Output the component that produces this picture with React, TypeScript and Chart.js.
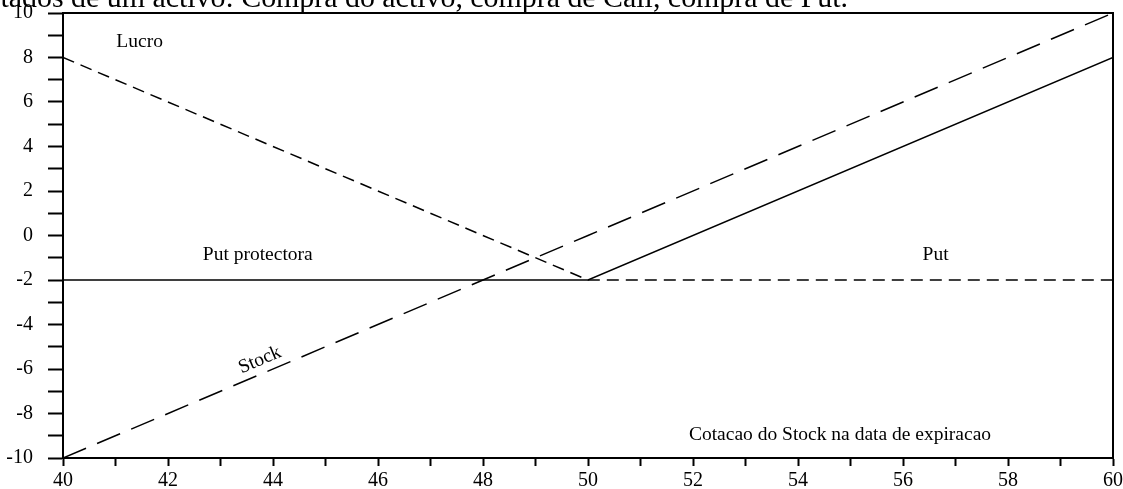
import React, { useEffect, useRef } from "react";
import { Chart, registerables } from "chart.js";

Chart.register(...registerables);

// Data
const stockPrices = [40, 50, 60];
const putProtectoraProfit = [-2, -2, 8];
const stockProfit = [-10, 0, 10];
const putProfit = [8, -2, -2];

const titleText = "Resultados de um activo: Compra do activo, compra de Call, compra de Put.";
const titleVisible = "tados de um activo: Compra do activo, compra de Call, compra de Put.";

const annotations = [
  { text: "Lucro", x: 41.46, y: 8.7, rot: 0 },
  { text: "Put protectora", x: 43.71, y: -0.88, rot: 0 },
  { text: "Put", x: 56.62, y: -0.88, rot: 0 },
  { text: "Stock", x: 43.75, y: -5.6, rot: 1 },
  { text: "Cotacao do Stock na data de expiracao", x: 54.8, y: -8.97, rot: 0 },
];

const pts = (ys: number[]) => stockPrices.map((x, i) => ({ x, y: ys[i] }));

const tickCb = (v: any) => (Number(v) % 2 === 0 ? String(v) : "");

export default function App() {
  const ref = useRef<HTMLCanvasElement | null>(null);
  useEffect(() => {
    document.body.style.margin = "0";
    const canvas = ref.current!;
    const framePlugin = {
      id: "frame",
      afterDraw(chart: any) {
        const { ctx, chartArea } = chart;
        const xs = chart.scales.x;
        const ys = chart.scales.y;
        ctx.save();
        ctx.strokeStyle = "#000";
        ctx.lineWidth = 2;
        ctx.beginPath();
        ctx.moveTo(chartArea.left, chartArea.top);
        ctx.lineTo(chartArea.right, chartArea.top);
        ctx.lineTo(chartArea.right, chartArea.bottom);
        ctx.stroke();
        ctx.fillStyle = "#000";
        ctx.font = '19.5px "Liberation Serif"';
        ctx.textAlign = "center";
        ctx.textBaseline = "middle";
        for (const a of annotations) {
          const px = xs.getPixelForValue(a.x);
          const py = ys.getPixelForValue(a.y);
          ctx.save();
          ctx.translate(px, py);
          if (a.rot) {
            const dx = xs.getPixelForValue(60) - xs.getPixelForValue(40);
            const dy = ys.getPixelForValue(10) - ys.getPixelForValue(-10);
            ctx.rotate(Math.atan2(dy, dx));
          }
          ctx.fillText(a.text, 0, 0);
          ctx.restore();
        }
        ctx.font = '100px "Liberation Serif"';
        const w = ctx.measureText(titleVisible).width;
        const size = (100 * 848) / w;
        ctx.font = `${size}px "Liberation Serif"`;
        ctx.textAlign = "right";
        ctx.textBaseline = "alphabetic";
        ctx.fillText(titleText, 848, 7);
        ctx.restore();
      },
    };
    const chart = new Chart(canvas, {
      type: "line",
      data: {
        datasets: [
          {
            label: "Put protectora",
            data: pts(putProtectoraProfit),
            borderColor: "#000",
            borderWidth: 1.5,
            pointRadius: 0,
            fill: false,
          },
          {
            label: "Stock",
            data: pts(stockProfit),
            borderColor: "#000",
            borderWidth: 1.5,
            borderDash: [25, 12],
            pointRadius: 0,
            fill: false,
          },
          {
            label: "Put",
            data: pts(putProfit),
            borderColor: "#000",
            borderWidth: 1.5,
            borderDash: [12, 7],
            pointRadius: 0,
            fill: false,
          },
        ],
      },
      options: {
        animation: false,
        responsive: false,
        maintainAspectRatio: false,
        layout: { padding: { top: 13, right: 10, left: 0, bottom: 0 } },
        plugins: { legend: { display: false }, tooltip: { enabled: false }, title: { display: false } },
        scales: {
          x: {
            type: "linear",
            min: 40,
            max: 60,
            afterFit: (s: any) => {
              s.height = 31;
              s.paddingLeft = 0;
              s.paddingRight = 0;
            },
            ticks: {
              stepSize: 1,
              autoSkip: false,
              maxRotation: 0,
              callback: tickCb,
              color: "#000",
              padding: 3,
              font: { family: "Liberation Serif", size: 20 },
            },
            grid: {
              drawOnChartArea: false,
              drawTicks: true,
              tickLength: 8,
              tickColor: "#000",
              tickWidth: 2,
            },
            border: { display: true, color: "#000", width: 2 },
          },
          y: {
            type: "linear",
            min: -10,
            max: 10,
            afterFit: (s: any) => {
              s.width = 63;
              s.paddingTop = 0;
              s.paddingBottom = 0;
            },
            ticks: {
              stepSize: 1,
              autoSkip: false,
              callback: tickCb,
              color: "#000",
              padding: 15,
              font: { family: "Liberation Serif", size: 20 },
            },
            grid: {
              drawOnChartArea: false,
              drawTicks: true,
              tickLength: 15,
              tickColor: "#000",
              tickWidth: 2,
            },
            border: { display: true, color: "#000", width: 2 },
          },
        },
      },
      plugins: [framePlugin],
    });
    return () => chart.destroy();
  }, []);
  return (
    <div style={{ width: 1123, height: 489, background: "#fff" }}>
      <canvas ref={ref} width={1123} height={489} style={{ display: "block" }} />
    </div>
  );
}
